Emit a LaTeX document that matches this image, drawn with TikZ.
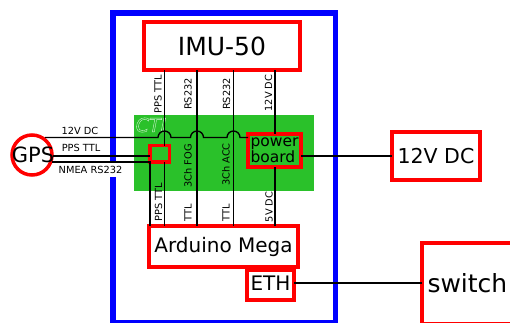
\documentclass[tikz,border=0pt]{standalone}
\usepackage{fontspec}
\setmainfont{DejaVu Sans}
\definecolor{boardgreen}{HTML}{2AC12A}
\tikzset{
  redbox/.style={draw=red, line width=3.5pt, inner sep=0pt, outer sep=0pt, anchor=north west},
  wire/.style={draw=black, line width=1.3pt},
  vlabel/.style={rotate=90, font=\fontsize{9.8}{9.8}\selectfont, inner sep=0pt},
  hlabel/.style={font=\fontsize{9.8}{9.8}\selectfont, inner sep=0pt}
}
\begin{document}
\begin{tikzpicture}[x=1pt, y=-1pt]
\useasboundingbox (0,0) rectangle (510,322);

\fill[boardgreen] (134,115) rectangle (314,191);
\draw[blue, line width=5.3pt] (113,322.5) -- (113,13) -- (335.5,13) -- (335.5,322.5) -- cycle;

\node[white, opacity=0.85, font=\fontsize{19}{19}\selectfont\itshape, inner sep=0pt] (logo) at (151,125)
  {\special{pdf:code q 1 Tr 0.35 w}CTI\special{pdf:code Q}};

% boxes
\node[redbox, minimum width=156pt, minimum height=48pt, font=\fontsize{25}{25}\selectfont] (imu) at (144,22) {IMU-50\hspace{8pt}};
\node[redbox, minimum width=149pt, minimum height=41pt, font=\fontsize{20}{20}\selectfont] (arduino) at (149,226) {Arduino Mega};
\node[redbox, minimum width=47pt, minimum height=30pt, text depth=4pt, font=\fontsize{20}{20}\selectfont] (eth) at (247,270) {ETH};
\node[redbox, minimum width=19.5pt, minimum height=16.5pt] (pps) at (150,145.5) {};
\node[redbox, minimum width=53pt, minimum height=33pt, font=\fontsize{15.5}{14.5}\selectfont, align=left] (power) at (248,134) {power\\board};
\node[redbox, minimum width=88pt, minimum height=48pt, font=\fontsize{20.5}{20.5}\selectfont] (dc) at (392,132) {12V DC};
\node[redbox, minimum width=110pt, minimum height=81pt, text width=99pt, font=\fontsize{25}{25}\selectfont, align=left] (switch) at (422,243) {switch};
\node[draw=red, line width=3.5pt, circle, minimum size=40pt, inner sep=0pt, outer sep=0pt] (gps) at (32,155) {};
\node[font=\fontsize{21}{21}\selectfont, inner sep=0pt] (gpstext) at (33,155) {GPS};

% columns
\coordinate (ppsa) at (150,0);
\coordinate (ppsb) at (164.5,0);
\coordinate (fog) at (197,0);
\coordinate (acc) at (233.5,0);
\coordinate (pwr) at (275,0);
\coordinate (ethline) at (0,283);

\node[hlabel, fill=white, minimum height=14.5pt, inner xsep=1pt] (lnmea) at (90.5,170) {NMEA RS232};

\draw[wire] (imu.south -| ppsb) -- (pps.north -| ppsb);
\draw[wire] (imu.south -| fog) -- (arduino.north -| fog);
\draw[wire] (imu.south -| acc) -- (arduino.north -| acc);
\draw[wire] (imu.south -| pwr) -- (power.north -| pwr);
\draw[wire] (power.south -| pwr) -- (arduino.north -| pwr);
\draw[wire] (pps.south -| ppsb) -- (arduino.north -| ppsb);
\draw[wire] (dc.west -| power.east) -- (dc.west);
\draw[wire] (ethline -| eth.east) -- (ethline -| switch.west);

\coordinate (gpsa) at (45,137.5);
\coordinate (gpsb) at (53,156);
\coordinate (gpsc) at (52,162);
\draw[wire] (gpsb) -- (gpsb -| pps.west);
\draw[wire] (gpsc) -- (gpsc -| ppsa) -- (arduino.north -| ppsa);
\draw[wire] (gpsa) -- (158,137.5) arc[start angle=180, end angle=0, radius=6.5pt]
  -- (190.5,137.5) arc[start angle=180, end angle=0, radius=6.5pt]
  -- (227,137.5) arc[start angle=180, end angle=0, radius=6.5pt]
  -- (gpsa -| power.west);

% labels
\node[hlabel] (l12v) at (80,131) {12V DC};
\node[hlabel] (lpps) at (81,148) {PPS TTL};

\node[vlabel] (u1) at (158,94) {PPS TTL};
\node[vlabel] (u2) at (188,94) {RS232};
\node[vlabel] (u3) at (226.5,94) {RS232};
\node[vlabel] (u4) at (268.5,93) {12V DC};
\node[vlabel] (m1) at (188,166) {3Ch FOG};
\node[vlabel] (m2) at (226,164.5) {3Ch ACC};
\node[vlabel] (d1) at (158.5,202) {PPS TTL};
\node[vlabel] (d2) at (188,213) {TTL};
\node[vlabel] (d3) at (226,213) {TTL};
\node[vlabel] (d4) at (269,207) {5V DC};

\end{tikzpicture}
\end{document}
